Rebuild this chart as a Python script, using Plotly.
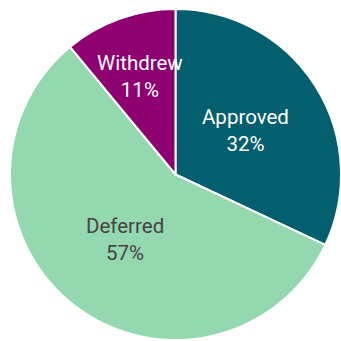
import math
import plotly.graph_objects as go

labels = ["Approved", "Deferred", "Withdrew"]
values = [32, 57, 11]
colors = ["#035f6d", "#94d8b0", "#8e006f"]
text_colors = ["#ffffff", "#444444", "#ffffff"]
label_radius = [0.5, 0.5, 0.63]  # fraction of radius where each label sits (style)

W = H = 341
dom_x = [10 / W, 1]
dom_y = [0, 333 / H]

fig = go.Figure(go.Pie(
    labels=labels,
    values=values,
    sort=False,
    direction="clockwise",
    rotation=0,
    marker=dict(colors=colors, line=dict(color="#ffffff", width=2)),
    textinfo="none",
    hoverinfo="label+percent",
    domain=dict(x=dom_x, y=dom_y),
))

# label positions derived from the values (mid-angle of each slice)
cx = (dom_x[0] + dom_x[1]) / 2
cy = (dom_y[0] + dom_y[1]) / 2
R = min((dom_x[1] - dom_x[0]) * W, (dom_y[1] - dom_y[0]) * H) / 2
total = sum(values)
cum = 0
annotations = []
for lab, v, tc, f in zip(labels, values, text_colors, label_radius):
    mid = (cum + v / 2) / total * 2 * math.pi
    cum += v
    px = math.sin(mid) * R * f / W
    py = math.cos(mid) * R * f / H
    annotations.append(dict(
        x=cx + px, y=cy + py, xref="paper", yref="paper",
        text=f"{lab}<br>{round(v / total * 100)}%",
        showarrow=False, xanchor="center", yanchor="middle",
        font=dict(family="Roboto", size=20.5, color=tc),
    ))

fig.update_layout(
    width=W, height=H,
    margin=dict(l=0, r=0, t=0, b=0),
    showlegend=False,
    paper_bgcolor="#ffffff",
    annotations=annotations,
)

fig.write_html("out.html")
